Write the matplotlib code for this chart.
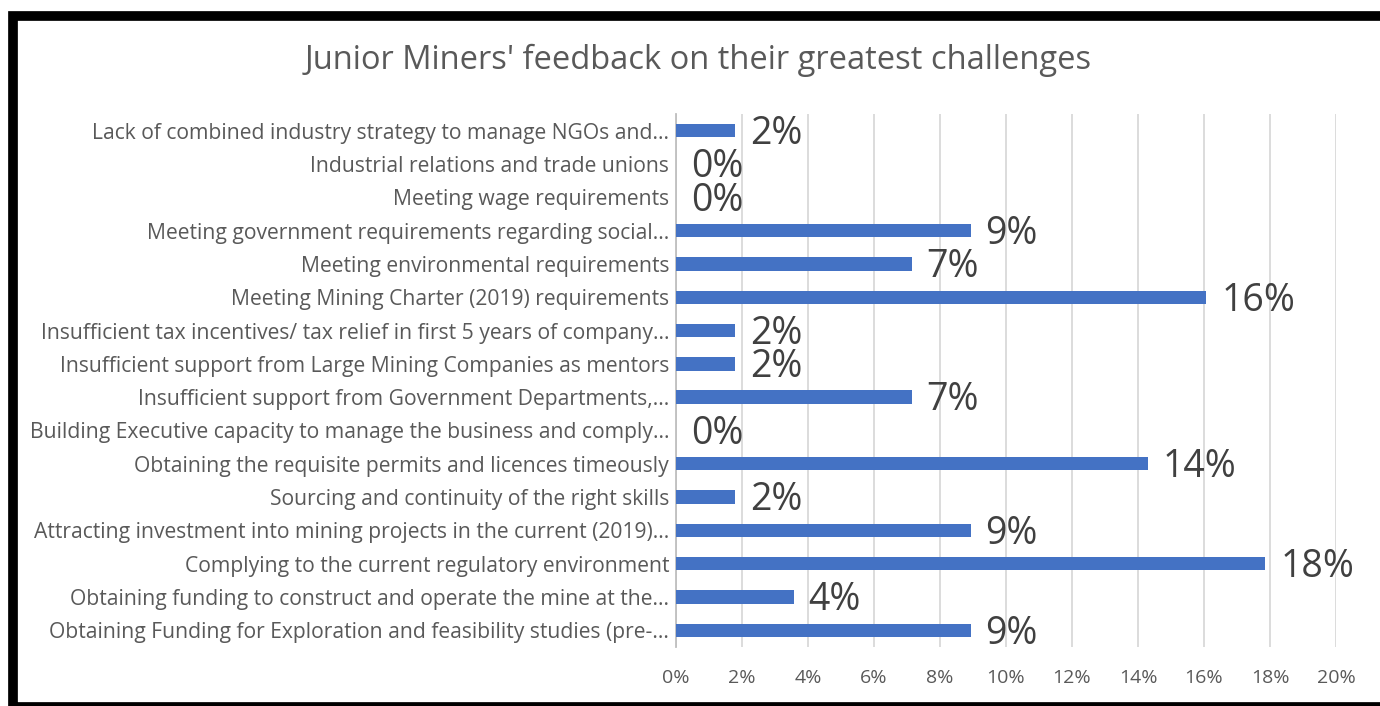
import matplotlib.pyplot as plt
from matplotlib.patches import Rectangle
import numpy as np

# categories top to bottom as in the chart
categories = [
    "Lack of combined industry strategy to manage NGOs and...",
    "Industrial relations and trade unions",
    "Meeting wage requirements",
    "Meeting government requirements regarding social...",
    "Meeting environmental requirements",
    "Meeting Mining Charter (2019) requirements",
    "Insufficient tax incentives/ tax relief in first 5 years of company...",
    "Insufficient support from Large Mining Companies as mentors",
    "Insufficient support from Government Departments,...",
    "Building Executive capacity to manage the business and comply...",
    "Obtaining the requisite permits and licences timeously",
    "Sourcing and continuity of the right skills",
    "Attracting investment into mining projects in the current (2019)...",
    "Complying to the current regulatory environment",
    "Obtaining funding to construct and operate the mine at the...",
    "Obtaining Funding for Exploration and feasibility studies (pre-...",
]
# share of responses (%)
values = [1.79, 0, 0, 8.93, 7.14, 16.07, 1.79, 1.79, 7.14, 0, 14.29, 1.79, 8.93, 17.86, 3.57, 8.93]
xticks = [0, 2, 4, 6, 8, 10, 12, 14, 16, 18, 20]

plt.rcParams['font.family'] = ['Open Sans', 'DejaVu Sans']
grey = '#595959'

fig = plt.figure(figsize=(13.8, 7.06), dpi=100)
ax = fig.add_axes([676/1380, 1-647/706, 660/1380, (647-114)/706])

y = np.arange(len(categories))[::-1]
ax.barh(y, values, height=0.4, color='#4472C4', zorder=3)
for yi, v in zip(y, values):
    ax.text(v + 0.45, yi - 0.1, '%d%%' % round(v), va='center', ha='left',
            fontsize=27, color='#404040', zorder=4)

ax.set_xlim(0, 20)
ax.set_ylim(-0.5, len(categories) - 0.5)
ax.set_xticks(xticks)
ax.set_xticklabels(['%d%%' % t for t in xticks], fontsize=14, color=grey)
ax.set_yticks(y)
ax.set_yticklabels(categories, fontsize=15.2, color=grey)
ax.tick_params(axis='both', length=0)
ax.tick_params(axis='x', pad=16)
ax.tick_params(axis='y', pad=5)
ax.grid(axis='x', color='#D9D9D9', linewidth=1.3, zorder=0)
for s in ['top', 'right', 'bottom']:
    ax.spines[s].set_visible(False)
ax.spines['left'].set_color('#BFBFBF')
ax.spines['left'].set_linewidth(1.3)

fig.text(698/1380, 1-60/706, "Junior Miners' feedback on their greatest challenges",
         ha='center', va='center', fontsize=23.5, color=grey)

# black frame around the chart
W, H = 1380, 706
frame = Rectangle((13/W, 1-707/H), (1395-13)/W, (707-15.5)/H, transform=fig.transFigure,
                  fill=False, edgecolor='black', linewidth=7, clip_on=False)
fig.patches.append(frame)

plt.savefig('out.png', dpi=100)
